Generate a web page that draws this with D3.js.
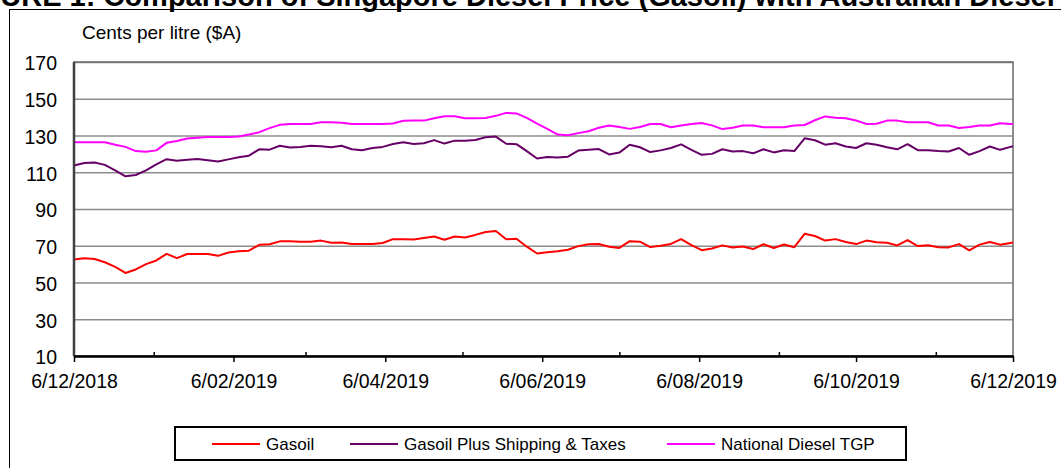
<!DOCTYPE html>
<html>
<head>
<meta charset="utf-8">
<script src="https://d3js.org/d3.v7.min.js"></script>
<style>
body { margin: 0; background: #fff; overflow: hidden; }
svg { display: block; font-family: "Liberation Sans", Arial, sans-serif; }
</style>
</head>
<body>
<div id="graph"></div>
<script>
"use strict"

// one reading every 4 days, 6 Dec 2018 .. 6 Dec 2019
var dates = [
    "2018-12-06","2018-12-10","2018-12-14","2018-12-18","2018-12-22","2018-12-26","2018-12-30",
    "2019-01-03","2019-01-07","2019-01-11","2019-01-15","2019-01-19","2019-01-23","2019-01-27","2019-01-31",
    "2019-02-04","2019-02-08","2019-02-12","2019-02-16","2019-02-20","2019-02-24","2019-02-28",
    "2019-03-04","2019-03-08","2019-03-12","2019-03-16","2019-03-20","2019-03-24","2019-03-28",
    "2019-04-01","2019-04-05","2019-04-09","2019-04-13","2019-04-17","2019-04-21","2019-04-25","2019-04-29",
    "2019-05-03","2019-05-07","2019-05-11","2019-05-15","2019-05-19","2019-05-23","2019-05-27","2019-05-31",
    "2019-06-04","2019-06-08","2019-06-12","2019-06-16","2019-06-20","2019-06-24","2019-06-28",
    "2019-07-02","2019-07-06","2019-07-10","2019-07-14","2019-07-18","2019-07-22","2019-07-26","2019-07-30",
    "2019-08-03","2019-08-07","2019-08-11","2019-08-15","2019-08-19","2019-08-23","2019-08-27","2019-08-31",
    "2019-09-04","2019-09-08","2019-09-12","2019-09-16","2019-09-20","2019-09-24","2019-09-28",
    "2019-10-02","2019-10-06","2019-10-10","2019-10-14","2019-10-18","2019-10-22","2019-10-26","2019-10-30",
    "2019-11-03","2019-11-07","2019-11-11","2019-11-15","2019-11-19","2019-11-23","2019-11-27",
    "2019-12-01","2019-12-05","2019-12-06"
]

var gasoil = [
    62.5, 63.2, 62.8, 61.0, 58.5, 55.2, 57.1,
    60.0, 62.0, 65.6, 63.3, 65.5, 65.5, 65.5, 64.5,
    66.3, 67.0, 67.3, 70.5, 70.8, 72.4, 72.5,
    72.2, 72.2, 72.8, 71.6, 71.8, 70.9, 70.9,
    70.9, 71.5, 73.6, 73.5, 73.4, 74.2, 75.0, 73.3,
    75.0, 74.5, 75.9, 77.5, 78.0, 73.5, 73.8, 69.5,
    65.8, 66.4, 67.0, 67.8, 69.8, 70.8, 71.0,
    69.5, 68.8, 72.5, 72.2, 69.3, 70.0, 71.0, 73.6,
    70.3, 67.6, 68.5, 70.2, 69.1, 69.6, 68.2, 70.8,
    68.8, 70.7, 69.2, 76.5, 75.3, 72.8, 73.6,
    72.0, 70.9, 72.8, 71.9, 71.6, 70.2, 73.1, 69.8,
    70.3, 69.2, 69.1, 70.9, 67.5, 70.6, 72.0,
    70.6, 71.5, 71.8
]

var gasoilPlus = [
    113.7, 115.0, 115.3, 114.0, 111.0, 107.8, 108.5,
    111.0, 114.3, 117.1, 116.2, 116.8, 117.2, 116.5, 115.8,
    117.0, 118.2, 119.0, 122.5, 122.3, 124.4, 123.5,
    123.8, 124.4, 124.2, 123.6, 124.4, 122.5, 122.0,
    123.2, 123.8, 125.4, 126.3, 125.4, 125.8, 127.5, 125.6,
    127.2, 127.2, 127.6, 129.0, 129.4, 125.5, 125.3, 121.5,
    117.5, 118.3, 118.0, 118.5, 121.8, 122.2, 122.6,
    119.7, 120.7, 125.0, 123.6, 121.0, 121.9, 123.2, 125.2,
    122.2, 119.5, 120.0, 122.5, 121.3, 121.5, 120.3, 122.5,
    120.8, 122.0, 121.5, 128.5, 127.4, 125.0, 125.8,
    124.0, 123.2, 125.8, 125.0, 123.6, 122.5, 125.3, 122.0,
    122.0, 121.5, 121.3, 123.2, 119.5, 121.5, 124.0,
    122.2, 123.8, 124.1
]

var tgp = [
    126.3, 126.3, 126.3, 126.3, 125.0, 123.8, 121.5,
    121.1, 121.9, 126.0, 127.0, 128.4, 128.8, 129.2, 129.2,
    129.2, 129.5, 130.5, 131.8, 134.0, 135.8, 136.3,
    136.3, 136.3, 137.2, 137.2, 137.0, 136.3, 136.3,
    136.3, 136.3, 136.5, 138.0, 138.1, 138.1, 139.4, 140.5,
    140.5, 139.4, 139.4, 139.5, 140.7, 142.3, 142.0, 139.6,
    136.5, 133.6, 130.5, 130.1, 131.3, 132.3, 134.2,
    135.4, 134.6, 133.6, 134.6, 136.3, 136.3, 134.5, 135.4,
    136.3, 136.8, 135.5, 133.5, 134.2, 135.4, 135.4, 134.5,
    134.5, 134.5, 135.4, 135.7, 138.3, 140.4, 139.6,
    139.4, 138.2, 136.3, 136.4, 138.1, 138.1, 137.2, 137.2,
    137.2, 135.4, 135.4, 134.1, 134.6, 135.4, 135.4,
    136.7, 136.3, 136.3
]

var seriesNames = ["Gasoil", "Gasoil Plus Shipping & Taxes", "National Diesel TGP"]
var seriesColors = ["#ff0000", "#660066", "#ff00ff"]

var majorTicks = ["2018-12-06","2019-02-06","2019-04-06","2019-06-06","2019-08-06","2019-10-06","2019-12-06"]
var minorTicks = ["2019-01-06","2019-03-06","2019-05-06","2019-07-06","2019-09-06","2019-11-06"]
var yTicks = [10, 30, 50, 70, 90, 110, 130, 150, 170]

var titleText = "FIGURE 1: Comparison of Singapore Diesel Price (Gasoil) with Australian Diesel Prices"
var yTitle = "Cents per litre ($A)"

var width = 1061, height = 468
var margin = {top: 62, left: 74, right: 48, bottom: 112}
var chartWidth = width - margin.left - margin.right
var chartHeight = height - margin.top - margin.bottom

main()

function main() {
    var parse = d3.timeParse("%Y-%m-%d")
    var fmt = d3.timeFormat("%-d/%m/%Y")

    var svg = d3.select("#graph").append("svg")
        .attr("width", width)
        .attr("height", height)

    svg.append("rect").attr("width", width).attr("height", height).attr("fill", "#fff")

    // title, its top is cut off by the page edge
    svg.append("text")
        .attr("x", -48)
        .attr("y", 6)
        .style("font-size", "29px")
        .style("font-weight", "bold")
        .attr("fill", "#000")
        .text(titleText)

    // chart frame
    svg.append("rect")
        .attr("x", 9.5).attr("y", 9.5)
        .attr("width", 1100).attr("height", 500)
        .attr("fill", "none").attr("stroke", "#000").attr("stroke-width", 1)

    var x = d3.scaleTime()
        .domain([parse(majorTicks[0]), parse(majorTicks[majorTicks.length - 1])])
        .range([0, chartWidth])
    var y = d3.scaleLinear()
        .domain([10, 170])
        .range([chartHeight, 0])

    var g = svg.append("g").attr("transform", "translate(" + [margin.left, margin.top] + ")")

    // gridlines
    g.append("g")
        .call(d3.axisLeft(y).tickValues(yTicks).tickSize(-chartWidth).tickFormat(""))
        .call(function(a) { a.select(".domain").remove() })
        .selectAll("line")
        .attr("stroke", "#8c8c8c")
        .attr("stroke-width", 1.5)

    // plot border
    g.append("rect")
        .attr("width", chartWidth).attr("height", chartHeight)
        .attr("fill", "none").attr("stroke", "#6a6a6a").attr("stroke-width", 1.5)

    // y labels
    var yAxis = g.append("g")
        .call(d3.axisLeft(y).tickValues(yTicks).tickSize(0).tickPadding(17))
    yAxis.select(".domain").remove()
    yAxis.selectAll("text")
        .style("font-size", "19.5px")
        .attr("fill", "#000")
        .attr("dy", "0.4em")

    // series
    var series = [gasoil, gasoilPlus, tgp]
    var line = d3.line()
        .x(function(d, i) { return x(parse(dates[i])) })
        .y(function(d) { return y(d) })

    g.selectAll(".series")
        .data(series)
        .enter().append("path")
        .attr("class", "series")
        .attr("fill", "none")
        .attr("stroke", function(d, i) { return seriesColors[i] })
        .attr("stroke-width", 2)
        .attr("stroke-linejoin", "round")
        .attr("d", line)

    // left axis line
    g.append("line")
        .attr("x1", 0).attr("x2", 0)
        .attr("y1", 0).attr("y2", chartHeight)
        .attr("stroke", "#404040").attr("stroke-width", 2.5)

    // x axis, minor ticks inside
    g.append("g")
        .attr("transform", "translate(0," + chartHeight + ")")
        .call(d3.axisTop(x).tickValues(minorTicks.map(parse)).tickSize(4).tickFormat(""))
        .call(function(a) { a.select(".domain").remove() })
        .selectAll("line").attr("stroke", "#000").attr("stroke-width", 1.5)

    var xAxis = g.append("g")
        .attr("transform", "translate(0," + chartHeight + ")")
        .call(d3.axisBottom(x).tickValues(majorTicks.map(parse)).tickSize(6).tickSizeOuter(0).tickPadding(12).tickFormat(fmt))
    xAxis.select(".domain").attr("stroke", "#000").attr("stroke-width", 2.5)
    xAxis.selectAll("line").attr("stroke", "#000").attr("stroke-width", 1.5)
    xAxis.selectAll("text")
        .style("font-size", "19.5px")
        .attr("fill", "#000")

    // y title
    svg.append("text")
        .attr("x", 82)
        .attr("y", 39)
        .style("font-size", "19px")
        .attr("fill", "#000")
        .text(yTitle)

    // legend
    var legend = svg.append("g").attr("transform", "translate(175,427)")
    legend.append("rect")
        .attr("width", 731).attr("height", 33)
        .attr("fill", "#fff").attr("stroke", "#000").attr("stroke-width", 2)

    var itemX = [37, 175, 492]
    var item = legend.selectAll(".item")
        .data(seriesNames)
        .enter().append("g")
        .attr("class", "item")
        .attr("transform", function(d, i) { return "translate(" + itemX[i] + ",17)" })
    item.append("line")
        .attr("x1", 0).attr("x2", 48)
        .attr("stroke", function(d, i) { return seriesColors[i] })
        .attr("stroke-width", 2)
    item.append("text")
        .attr("x", 54)
        .attr("dy", "0.36em")
        .style("font-size", "17px")
        .attr("fill", "#000")
        .text(function(d) { return d })
}
</script>
</body>
</html>
